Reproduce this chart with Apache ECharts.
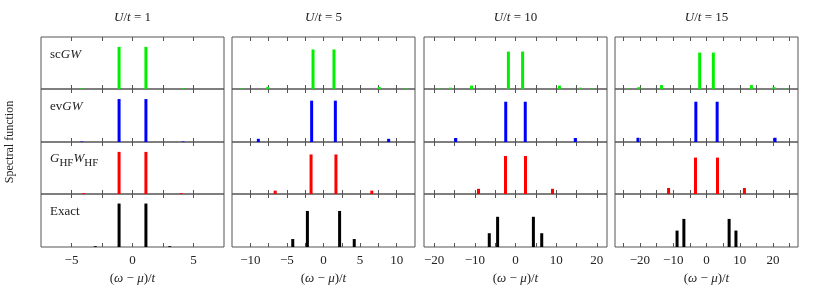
<!DOCTYPE html>
<html>
<head>
<meta charset="utf-8">
<script src="https://cdn.jsdelivr.net/npm/echarts@6/dist/echarts.min.js"></script>
<style>html,body{margin:0;padding:0;background:#fff}#c{width:830px;height:291px}</style>
</head>
<body>
<div id="c"></div>
<script>
// ---- data ----
const U_VALUES = [1, 5, 10, 15];
const METHODS = ['scGW', 'evGW', 'GHFWHF', 'Exact'];
const METHOD_COLORS = ['#00f000', '#0000ff', '#ff0000', '#000000'];

// peaks: [position (omega-mu)/t, weight]
const scGW_U1  = [[-4.15, 0.015], [-1.1, 0.81], [1.1, 0.81], [4.15, 0.015]];
const evGW_U1  = [[-4.15, 0.01], [-1.1, 0.81], [1.1, 0.81], [4.15, 0.01]];
const GHF_U1   = [[-4.0, 0.015], [-1.1, 0.81], [1.1, 0.81], [4.0, 0.015]];
const exact_U1 = [[-3.05, 0.015], [-1.1, 0.82], [1.1, 0.82], [3.05, 0.015]];

const scGW_U5  = [[-11.2, 0.01], [-7.6, 0.04], [-1.43, 0.76], [1.43, 0.76], [7.6, 0.04], [11.2, 0.01]];
const evGW_U5  = [[-8.9, 0.06], [-1.62, 0.78], [1.62, 0.78], [8.9, 0.06]];
const GHF_U5   = [[-6.6, 0.065], [-1.7, 0.76], [1.7, 0.76], [6.6, 0.065]];
const exact_U5 = [[-4.2, 0.15], [-2.2, 0.68], [2.2, 0.68], [4.2, 0.15]];

const scGW_U10  = [[-18.8, 0.01], [-16.0, 0.025], [-10.8, 0.065], [-1.75, 0.72], [1.75, 0.72], [10.8, 0.065], [16.0, 0.025], [18.8, 0.01]];
const evGW_U10  = [[-14.7, 0.075], [-2.4, 0.76], [2.4, 0.76], [14.7, 0.075]];
const GHF_U10   = [[-9.1, 0.1], [-2.46, 0.73], [2.46, 0.73], [9.1, 0.1]];
const exact_U10 = [[-6.45, 0.26], [-4.4, 0.57], [4.4, 0.57], [6.45, 0.26]];

const scGW_U15  = [[-23.5, 0.01], [-20.3, 0.035], [-13.5, 0.075], [-2.05, 0.70], [2.05, 0.70], [13.5, 0.075], [20.3, 0.035], [23.5, 0.01]];
const evGW_U15  = [[-20.6, 0.08], [-3.2, 0.76], [3.2, 0.76], [20.6, 0.08]];
const GHF_U15   = [[-11.4, 0.115], [-3.3, 0.70], [3.3, 0.70], [11.4, 0.115]];
const exact_U15 = [[-8.85, 0.31], [-6.8, 0.53], [6.8, 0.53], [8.85, 0.31]];

const PANELS = [
  [scGW_U1, scGW_U5, scGW_U10, scGW_U15],
  [evGW_U1, evGW_U5, evGW_U10, evGW_U15],
  [GHF_U1, GHF_U5, GHF_U10, GHF_U15],
  [exact_U1, exact_U5, exact_U10, exact_U15]
];

// axis ranges and ticks per column
const X_MIN = [-7.5, -12.5, -22.5, -27.5];
const X_MAX = [7.5, 12.5, 22.5, 27.5];
const X_TICKS = [
  [-5, -2.5, 0, 2.5, 5],
  [-10, -7.5, -5, -2.5, 0, 2.5, 5, 7.5, 10],
  [-20, -15, -10, -5, 0, 5, 10, 15, 20],
  [-25, -20, -15, -10, -5, 0, 5, 10, 15, 20, 25]
];
const X_LABELS = [
  [-5, 0, 5],
  [-10, -5, 0, 5, 10],
  [-20, -10, 0, 10, 20],
  [-20, -10, 0, 10, 20]
];
const ROW_LABELS = ['{n|sc}{i|GW}', '{n|ev}{i|GW}', '{i|G}{s|HF}{i|W}{s|HF}', '{n|Exact}'];

// ---- layout ----
const FONT = 'Liberation Serif';
const COL_LEFT = [41, 232, 424, 615];
const COL_W = 183;
const ROW_TOP = [37, 89, 142, 194];
const ROW_H = [52, 53, 52, 53];
const LABEL_OFF = [11, 11, 6, 11];

const richStyles = {
  n: {fontFamily: FONT, fontSize: 13, fontWeight: 'normal', color: '#222'},
  i: {fontFamily: FONT, fontSize: 13, fontWeight: 'normal', fontStyle: 'italic', color: '#222'},
  s: {fontFamily: FONT, fontSize: 11, fontWeight: 'normal', color: '#222', padding: [10, 0, 0, 0]}
};
const fmt = v => (v < 0 ? '\u2212' + Math.abs(v) : String(v));

const grid = [], xAxis = [], yAxis = [], series = [], title = [];
let gi = 0;
for (let r = 0; r < 4; r++) {
  for (let c = 0; c < 4; c++) {
    grid.push({left: COL_LEFT[c], top: ROW_TOP[r], width: COL_W, height: ROW_H[r],
      show: true, borderColor: '#555', borderWidth: 1, backgroundColor: 'transparent'});
    const bottomRow = r === 3;
    const tick = {show: true, inside: true, length: 4, customValues: X_TICKS[c], lineStyle: {color: '#555', width: 1}};
    xAxis.push({
      type: 'value', gridIndex: gi, min: X_MIN[c], max: X_MAX[c], position: 'bottom',
      axisLine: {show: false}, splitLine: {show: false}, axisTick: tick,
      axisLabel: {show: bottomRow, customValues: X_LABELS[c], formatter: fmt, margin: 7,
        fontFamily: FONT, fontSize: 13, color: '#222'},
      name: bottomRow ? '({i|\u03c9} \u2212 {i|\u03bc})/{i|t}' : '',
      nameLocation: 'middle', nameGap: 25,
      nameTextStyle: {fontFamily: FONT, fontSize: 13, color: '#222', rich: richStyles}
    });
    xAxis.push({
      type: 'value', gridIndex: gi, min: X_MIN[c], max: X_MAX[c], position: 'top',
      axisLine: {show: false}, splitLine: {show: false}, axisTick: tick,
      axisLabel: {show: false}
    });
    yAxis.push({type: 'value', gridIndex: gi, min: 0, max: 1,
      axisLine: {show: false}, axisTick: {show: false}, axisLabel: {show: false}, splitLine: {show: false}});
    series.push({
      type: 'bar', xAxisIndex: gi * 2, yAxisIndex: gi, barWidth: 3,
      data: PANELS[r][c], itemStyle: {color: METHOD_COLORS[r]}, silent: true
    });
    gi++;
  }
  title.push({text: ROW_LABELS[r], left: 50, top: ROW_TOP[r] + LABEL_OFF[r], padding: 0,
    textStyle: {fontFamily: FONT, fontSize: 13, fontWeight: 'normal', color: '#222', rich: richStyles}});
}
for (let c = 0; c < 4; c++) {
  title.push({text: '{i|U}/{i|t} = ' + U_VALUES[c], left: COL_LEFT[c] + COL_W / 2, top: 11, padding: 0,
    textAlign: 'center',
    textStyle: {fontFamily: FONT, fontSize: 13, fontWeight: 'normal', color: '#222', rich: richStyles}});
}

const chart = echarts.init(document.getElementById('c'), null, {renderer: 'canvas'});
chart.setOption({
  animation: false,
  backgroundColor: '#fff',
  title, grid, xAxis, yAxis, series,
  graphic: [{
    type: 'text', x: 10, y: 142, rotation: Math.PI / 2,
    style: {text: 'Spectral function', fontFamily: FONT, fontSize: 12, fill: '#222',
      align: 'center', verticalAlign: 'middle'}
  }]
});
</script>
</body>
</html>
